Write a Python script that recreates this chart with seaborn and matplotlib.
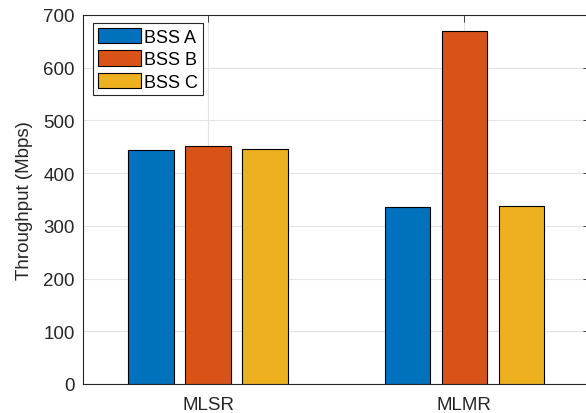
import matplotlib
matplotlib.use('Agg')
import matplotlib.pyplot as plt
import seaborn as sns
import pandas as pd

# data
schemes = ['MLSR', 'MLMR']
bss_names = ['BSS A', 'BSS B', 'BSS C']
bss_a = [443, 335]
bss_b = [451, 670]
bss_c = [445, 337]
colors = ['#0072BD', '#D95319', '#EDB120']

rows = []
for name, vals in zip(bss_names, [bss_a, bss_b, bss_c]):
    for s, v in zip(schemes, vals):
        rows.append({'Scheme': s, 'BSS': name, 'Throughput': v})
df = pd.DataFrame(rows)

sns.set_style('white')
plt.rcParams['font.family'] = ['Liberation Sans', 'DejaVu Sans']

fig = plt.figure(figsize=(5.86, 4.14), dpi=100)
ax = fig.add_axes([83 / 586, 29 / 414, 506.5 / 586, 369 / 414])

sns.barplot(data=df, x='Scheme', y='Throughput', hue='BSS', palette=colors,
            width=0.667, gap=0.2, errorbar=None, edgecolor='black',
            linewidth=0.8, saturation=1, ax=ax, zorder=3)

ax.set_xlim(-0.488, 1.488)
ax.set_ylim(0, 700)
ax.set_yticks(range(0, 701, 100))
ax.set_xlabel('')
ax.set_ylabel('Throughput (Mbps)', fontsize=13.5, color='#262626', labelpad=7)

ax.grid(True, color='#e3e3e3', linewidth=0.8, zorder=0)
ax.set_axisbelow(True)
for sp in ax.spines.values():
    sp.set_visible(True)
    sp.set_color('#262626')
    sp.set_linewidth(0.8)

ax.tick_params(axis='both', direction='in', length=5, width=0.6,
               colors='#262626', labelsize=13.5, top=True, right=True,
               labelcolor='#262626')
ax.tick_params(axis='y', pad=6)
ax.tick_params(axis='x', pad=9)

leg = ax.legend(loc='upper left', bbox_to_anchor=(10 / 506.5, 1 - 8 / 369),
                borderaxespad=0, fancybox=False, framealpha=1,
                edgecolor='#262626', fontsize=13, handlelength=2.4,
                handleheight=0.95, handletextpad=0.2, labelspacing=0.25,
                borderpad=0.25)
leg.get_frame().set_linewidth(0.8)
for t in leg.get_texts():
    t.set_color('black')

fig.savefig('out.png', dpi=100)
